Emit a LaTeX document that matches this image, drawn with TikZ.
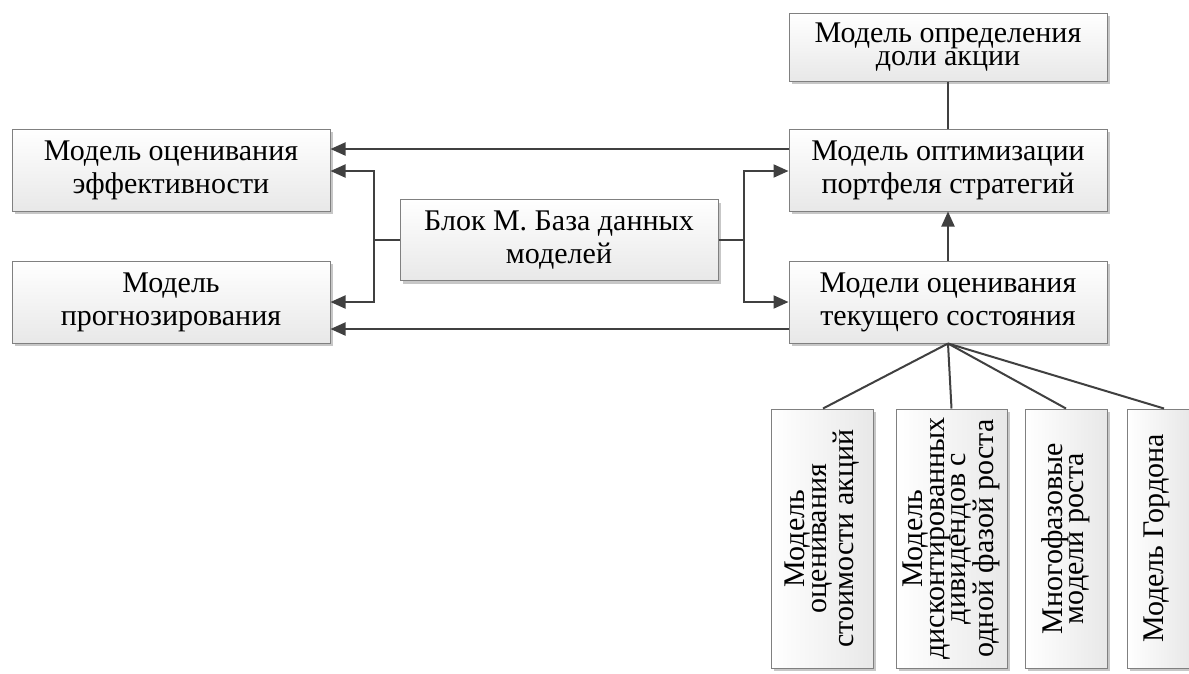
\documentclass[tikz,border=0pt]{standalone}
\usepackage{fontspec}
\setmainfont{Liberation Serif}
\usetikzlibrary{arrows.meta,shadows,calc}
\tikzset{
  mbox/.style={draw=black!50, line width=1pt, rectangle, inner sep=0pt,
    top color=white, bottom color=black!9,
    drop shadow={shadow xshift=3pt, shadow yshift=-3pt, fill=black!22, opacity=1},
    font=\fontsize{30pt}{33pt}\selectfont, align=center, text=black},
  vbox/.style={draw=black!50, line width=1pt, rectangle, inner sep=0pt,
    left color=white, right color=black!9,
    drop shadow={shadow xshift=3pt, shadow yshift=-3pt, fill=black!22, opacity=1}},
  vtext/.style={rotate=90, inner sep=0pt, align=center,
    font=\fontsize{30pt}{21.5pt}\selectfont},
  conn/.style={draw=black!75, line width=2pt},
  arr/.style={conn, -{Triangle[length=15pt,width=13pt]}},
}
\begin{document}
\begin{tikzpicture}[x=1pt,y=-1pt]
\useasboundingbox (0,0) rectangle (1189,673);
% left boxes
\node[mbox, minimum width=318pt, minimum height=82pt] (eff) at (171,170) {Модель оценивания\\эффективности};
\node[mbox, minimum width=318pt, minimum height=82pt] (progn) at (171,302) {Модель\\прогнозирования};
% center
\node[mbox, minimum width=318pt, minimum height=81pt] (blk) at (559,240) {Блок М. База данных\\моделей};
% right
\node[mbox, minimum width=318pt, minimum height=68pt, font=\fontsize{30pt}{23pt}\selectfont] (top) at (948,47) {Модель определения\\доли акции};
\node[mbox, minimum width=318pt, minimum height=82pt] (opt) at (948,170) {Модель оптимизации\\портфеля стратегий};
\node[mbox, minimum width=318pt, minimum height=82pt] (cur) at (948,302) {Модели оценивания\\текущего состояния};
% vertical boxes
\node[vbox, minimum width=102pt, minimum height=259pt] (v1) at (822,538.5) {};
\node[vtext] (v1t) at (v1) {Модель\\оценивания\\стоимости акций};
\node[vbox, minimum width=111pt, minimum height=259pt] (v2) at (951.5,538.5) {};
\node[vtext] (v2t) at (v2) {Модель\\дисконтированных\\дивидендов с\\одной фазой роста};
\node[vbox, minimum width=82pt, minimum height=259pt] (v3) at (1066,538.5) {};
\node[vtext] (v3t) at (v3) {Многофазовые\\модели роста};
\node[vbox, minimum width=62pt, minimum height=259pt] (v4) at (1158,538.5) {};
\node[vtext] (v4t) at (1157,538.5) {Модель Гордона};
% connectors
\coordinate (jl) at (374,240);
\coordinate (jr) at (744,240);
\draw[arr] ([yshift=21pt]opt.west) -- ([yshift=21pt]eff.east);
\draw[arr] ([yshift=-27pt]cur.west) -- ([yshift=-27pt]progn.east);
\draw[conn] (blk.west) -- (jl);
\draw[arr] (jl) |- ([yshift=-1pt]eff.east);
\draw[arr] (jl) |- (progn.east);
\draw[conn] (blk.east) -- (jr);
\draw[arr] (jr) |- ([yshift=-1pt]opt.west);
\draw[arr] (jr) |- (cur.west);
\draw[arr] (cur.north) -- (opt.south);
\draw[conn] (top.south) -- (opt.north);
\draw[conn] (cur.south) -- ([xshift=1pt]v1.north);
\draw[conn] (cur.south) -- (v2.north);
\draw[conn] (cur.south) -- (v3.north);
\draw[conn] (cur.south) -- ([xshift=6pt]v4.north);
\end{tikzpicture}
\end{document}
